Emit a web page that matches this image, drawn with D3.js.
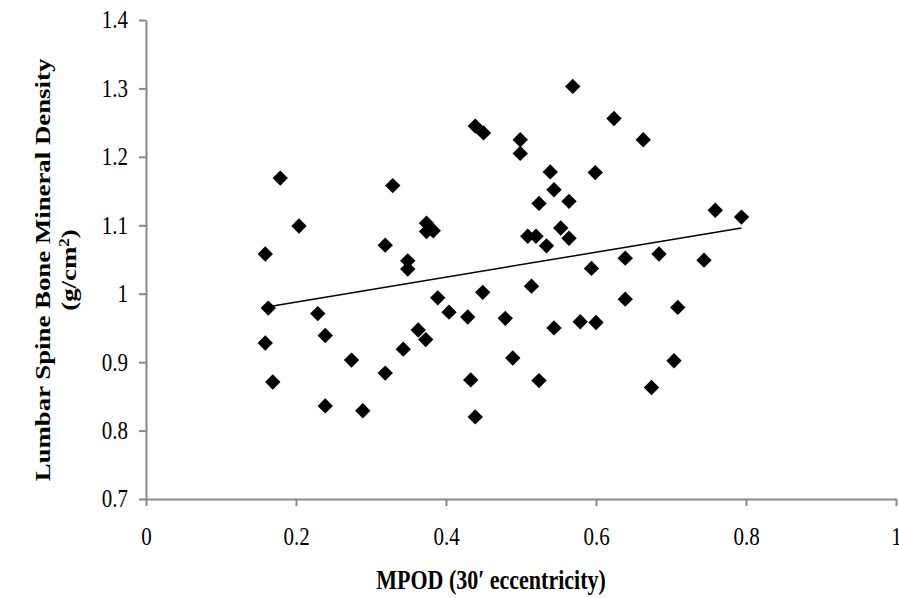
<!DOCTYPE html>
<html>
<head>
<meta charset="utf-8">
<script src="https://cdn.jsdelivr.net/npm/d3@7"></script>
<style>
  body { margin: 0; background: #fff; }
  text { font-family: "Liberation Serif", "Times New Roman", serif; fill: #000; }
</style>
</head>
<body>
<svg width="899" height="598"></svg>
<script>
// values
var mpod = [0.179, 0.439, 0.450, 0.204, 0.159, 0.329, 0.319, 0.374, 0.374, 0.383,
            0.349, 0.349, 0.389, 0.449, 0.569, 0.624, 0.663, 0.499, 0.499, 0.539,
            0.599, 0.544, 0.524, 0.564, 0.759, 0.794, 0.553, 0.564, 0.509, 0.520,
            0.534, 0.594, 0.639, 0.684, 0.744, 0.514, 0.639, 0.709, 0.163, 0.169,
            0.159, 0.229, 0.239, 0.274, 0.239, 0.289, 0.319, 0.343, 0.363, 0.373,
            0.404, 0.429, 0.479, 0.489, 0.433, 0.439, 0.544, 0.579, 0.600, 0.704,
            0.524, 0.674];
var bmd = [1.169, 1.245, 1.235, 1.099, 1.058, 1.158, 1.071, 1.103, 1.091, 1.092,
           1.048, 1.036, 0.994, 1.002, 1.303, 1.256, 1.225, 1.225, 1.205, 1.178,
           1.177, 1.152, 1.132, 1.135, 1.122, 1.112, 1.096, 1.081, 1.084, 1.084,
           1.070, 1.037, 1.052, 1.058, 1.049, 1.011, 0.992, 0.980, 0.979, 0.871,
           0.928, 0.971, 0.939, 0.903, 0.836, 0.829, 0.884, 0.919, 0.947, 0.933,
           0.973, 0.966, 0.964, 0.906, 0.874, 0.820, 0.950, 0.959, 0.958, 0.902,
           0.873, 0.863];
// linear trend line, end points
var trendX = [0.163, 0.794];
var trendY = [0.981, 1.096];

var xTicks = [0, 0.2, 0.4, 0.6, 0.8, 1];
var xTickLabels = ["0", "0.2", "0.4", "0.6", "0.8", "1"];
var yTicks = [0.7, 0.8, 0.9, 1.0, 1.1, 1.2, 1.3, 1.4];
var yTickLabels = ["0.7", "0.8", "0.9", "1", "1.1", "1.2", "1.3", "1.4"];

var svg = d3.select("svg"),
    width = +svg.attr("width"),
    height = +svg.attr("height");

var x = d3.scaleLinear().domain([0, 1]).range([146, 896]);
var y = d3.scaleLinear().domain([0.7, 1.4]).range([499, 20]);

var stretch = 1.18; // text in the picture looks a little tall

var xAxis = svg.append("g")
    .attr("transform", "translate(0," + y(0.7) + ")")
    .call(d3.axisBottom(x)
        .tickValues(xTicks)
        .tickSize(7)
        .tickSizeOuter(0)
        .tickFormat(function(d, i) { return xTickLabels[i]; }));

var yAxis = svg.append("g")
    .attr("transform", "translate(" + x(0) + ",0)")
    .call(d3.axisLeft(y)
        .tickValues(yTicks)
        .tickSize(7)
        .tickSizeOuter(0)
        .tickFormat(function(d, i) { return yTickLabels[i]; }));

[xAxis, yAxis].forEach(function(a) {
  a.select(".domain").attr("stroke", "#888").attr("stroke-width", 2);
  a.selectAll(".tick line").attr("stroke", "#888").attr("stroke-width", 2);
  a.selectAll(".tick text")
      .attr("font-family", "Liberation Serif")
      .attr("font-size", 21)
      .attr("fill", "#000");
});

xAxis.selectAll(".tick text")
    .attr("y", 38 / stretch)
    .attr("dy", "0.32em")
    .attr("transform", "scale(1," + stretch + ")");

yAxis.selectAll(".tick text")
    .attr("x", -18)
    .attr("transform", "scale(1," + stretch + ")");

// trend line
svg.append("line")
    .attr("x1", x(trendX[0]))
    .attr("y1", y(trendY[0]))
    .attr("x2", x(trendX[1]))
    .attr("y2", y(trendY[1]))
    .attr("stroke", "#000")
    .attr("stroke-width", 1.5);

// diamonds
var diamond = d3.symbol().type(d3.symbolSquare).size(118);
svg.append("g")
  .selectAll("path")
  .data(mpod)
  .enter().append("path")
    .attr("d", diamond)
    .attr("transform", function(d, i) {
      return "translate(" + x(d) + "," + y(bmd[i]) + ") rotate(45)";
    })
    .attr("fill", "#000");

// axis titles
svg.append("text")
    .attr("transform", "translate(" + 491 + "," + 580 + ") scale(1," + 1.22 + ")")
    .attr("text-anchor", "middle")
    .attr("dy", "0.35em")
    .attr("font-size", 22)
    .attr("font-weight", "bold")
    .text("MPOD (30\u2032 eccentricity)");

var yt = svg.append("text")
    .attr("transform", "translate(" + 42 + "," + 270 + ") scale(1," + 1.22 + ") rotate(-90)")
    .attr("text-anchor", "middle")
    .attr("font-size", 22)
    .attr("font-weight", "bold");
yt.append("tspan")
    .attr("x", 0)
    .attr("dy", "0.35em")
    .text("Lumbar Spine Bone Mineral Density");
yt.append("tspan")
    .attr("x", 0)
    .attr("dy", "1.2em")
    .text("(g/cm")
  .append("tspan")
    .attr("baseline-shift", "super")
    .attr("font-size", 14)
    .text("2");
yt.append("tspan").text(")");
</script>
</body>
</html>
